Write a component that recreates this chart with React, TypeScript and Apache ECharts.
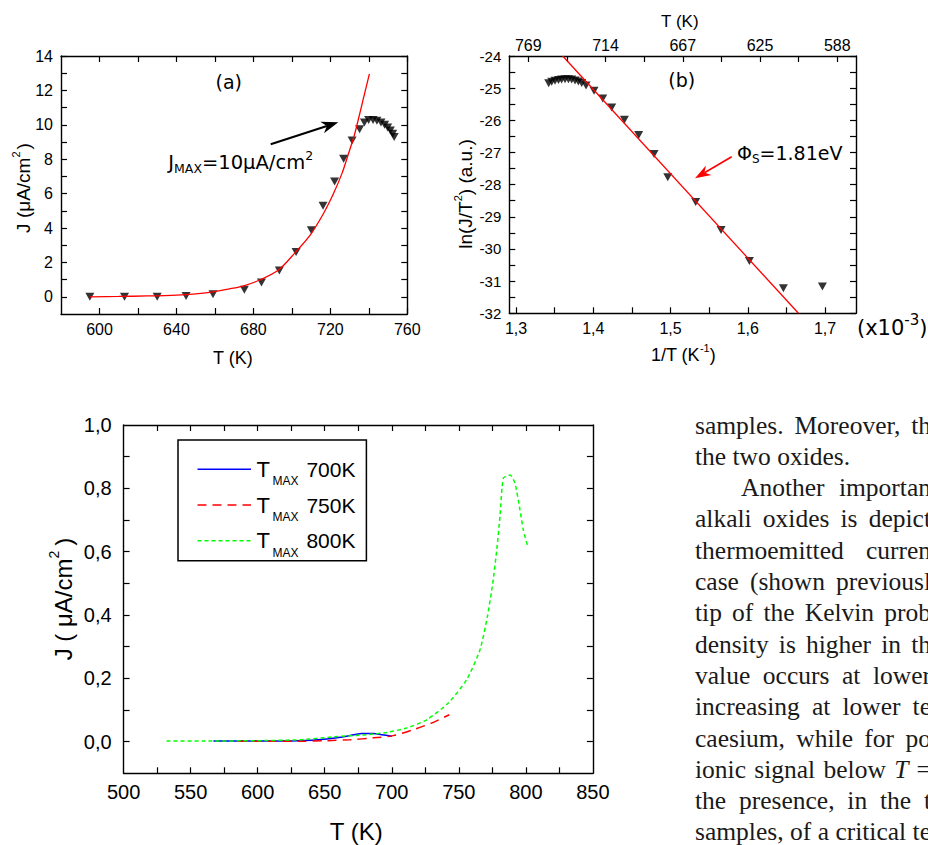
import React, { useEffect, useRef } from 'react';
import * as echarts from 'echarts';

const SANS = '"Liberation Sans", Arial, Helvetica, sans-serif';
const DEJAVU = '"DejaVu Sans", Verdana, sans-serif';
const SERIF = '"Liberation Serif", "Times New Roman", serif';

// ---------- Panel (a): J vs T ----------
const aTemp = [595, 613, 630, 645, 659, 675.3, 684.2, 693.5, 702.2, 710.1, 716.2, 722.2, 726.9, 731.3, 735.2, 737.7, 739.9, 742.2, 744.2, 746.3, 748.2, 749.8, 751.2, 752.4, 753.2];
const aCurrent = [0, 0, 0, 0.05, 0.15, 0.41, 0.83, 1.53, 2.6, 3.87, 5.29, 6.7, 8.02, 9.08, 9.74, 10.13, 10.28, 10.28, 10.23, 10.13, 10.0, 9.84, 9.67, 9.48, 9.29];
const aFitTemp = [595, 610, 625, 640, 650, 660, 668, 675, 683.6, 693.2, 701.8, 709.6, 716.5, 721.7, 726.1, 729.5, 732.5, 734.7, 737, 740.3];
const aFitCurrent = [0.0, 0.02, 0.05, 0.1, 0.17, 0.3, 0.47, 0.64, 0.99, 1.57, 2.58, 3.6, 4.86, 6.02, 7.19, 8.35, 9.41, 10.38, 11.45, 12.96];
const aXTicks = [600, 620, 640, 660, 680, 700, 720, 740, 760];
const aXLabels = [600, 640, 680, 720, 760];
const aYTicks = [0, 1, 2, 3, 4, 5, 6, 7, 8, 9, 10, 11, 12, 13, 14];
const aYLabels = [0, 2, 4, 6, 8, 10, 12, 14];

// ---------- Panel (b): ln(J/T^2) vs 1/T ----------
const bInvT = [1.3423, 1.3462, 1.3505, 1.355, 1.359, 1.3634, 1.3678, 1.372, 1.3764, 1.3807, 1.385, 1.3906, 1.401, 1.4122, 1.4239, 1.4403, 1.4588, 1.4787, 1.4964, 1.5326, 1.5654, 1.6021, 1.6461, 1.6966];
const bLnJT2 = [-24.85, -24.8, -24.77, -24.75, -24.73, -24.72, -24.72, -24.73, -24.76, -24.79, -24.84, -24.92, -25.08, -25.32, -25.6, -25.98, -26.46, -27.05, -27.77, -28.54, -29.41, -30.37, -31.22, -31.17];
const bFitInvT = [1.3604, 1.6656];
const bFitLn = [-24, -32];
const bXTicks = [1.3, 1.35, 1.4, 1.45, 1.5, 1.55, 1.6, 1.65, 1.7];
const bXLabels = [1.3, 1.4, 1.5, 1.6, 1.7];
const bYTicks = [-32, -31.5, -31, -30.5, -30, -29.5, -29, -28.5, -28, -27.5, -27, -26.5, -26, -25.5, -25, -24.5, -24];
const bYLabels = [-32, -31, -30, -29, -28, -27, -26, -25, -24];
const bTopLabelValues = [1.3, 1.4, 1.5, 1.6, 1.7];
const bTopLabels = ['769', '714', '667', '625', '588'];

// ---------- Panel (c): J vs T for three T_MAX ----------
const c700T = [567, 600, 630, 651.5, 666.4, 677.6, 686.3, 692.5, 700];
const c700J = [0.002, 0.002, 0.003, 0.0085, 0.017, 0.026, 0.026, 0.022, 0.017];
const c750T = [585, 610, 631.6, 651.5, 668.9, 686.2, 701.1, 716.1, 731, 742.9];
const c750J = [0.001, 0.001, 0.001, 0.003, 0.006, 0.012, 0.019, 0.038, 0.061, 0.085];
const c800T = [532, 560, 600, 631.6, 656.4, 681.3, 696.2, 711.1, 726.1, 742.2, 755.9, 765.8, 771.3, 775.3, 778.3, 780.7, 783.2, 788.2, 791.9, 795.6, 798.1, 801.1];
const c800J = [0.002, 0.002, 0.003, 0.006, 0.015, 0.022, 0.029, 0.043, 0.069, 0.122, 0.196, 0.29, 0.395, 0.5, 0.606, 0.711, 0.832, 0.842, 0.816, 0.732, 0.669, 0.621];
const cSeriesNames = ['700K', '750K', '800K'];
const cXTicks = [525, 550, 575, 600, 625, 650, 675, 700, 725, 750, 775, 800, 825];
const cXLabels = [500, 550, 600, 650, 700, 750, 800, 850];
const cYTicks = [0, 0.1, 0.2, 0.3, 0.4, 0.5, 0.6, 0.7, 0.8, 0.9];
const cYLabels = [0, 0.2, 0.4, 0.6, 0.8, 1.0];

// ---------- Body text ----------
const paraLines = [
  'samples. Moreover, th',
  'the two oxides.',
  'Another importan',
  'alkali oxides is depict',
  'thermoemitted curren',
  'case (shown previousl',
  'tip of the Kelvin prob',
  'density is higher in th',
  'value occurs at lower',
  'increasing at lower te',
  'caesium, while for po',
  'ionic signal below T =',
  'the presence, in the t',
  'samples, of a critical te',
];

const zip = (xs: number[], ys: number[]) => xs.map((x, i) => [x, ys[i]]);
const comma1 = (v: number) => v.toFixed(1).replace('.', ',');

function axis(o: any) {
  return {
    type: 'value',
    gridIndex: o.grid,
    position: o.pos,
    min: o.min,
    max: o.max,
    axisLine: { show: true, onZero: false, lineStyle: { color: '#000', width: 1.4 } },
    axisTick: { show: true, inside: true, length: 6, customValues: o.ticks, lineStyle: { color: '#000', width: 1.2 } },
    axisLabel: o.labels
      ? {
          show: true,
          customValues: o.labels,
          formatter: o.fmt,
          fontSize: o.fs,
          fontFamily: SANS,
          color: '#000',
          margin: o.margin,
          showMinLabel: true,
          showMaxLabel: true,
        }
      : { show: false },
    splitLine: { show: false },
    splitArea: { show: false },
  };
}

export default function App() {
  const ref = useRef<HTMLDivElement>(null);

  useEffect(() => {
    if (!ref.current) return;
    const chart = echarts.init(ref.current, undefined, { renderer: 'svg' });
    const cv = document.createElement('canvas').getContext('2d') as CanvasRenderingContext2D;
    const fontStr = (size: number, family: string, italic?: boolean) => `${italic ? 'italic ' : ''}${size}px ${family}`;
    const tw = (t: string, size: number, family: string, italic?: boolean) => {
      cv.font = fontStr(size, family, italic);
      return cv.measureText(t).width;
    };
    type Part = { t: string; size: number; family?: string; dy?: number; italic?: boolean; pre?: number; color?: string };
    const seq = (parts: Part[], x0: number, y0: number, align: 'left' | 'center' = 'left') => {
      const ws = parts.map((p) => tw(p.t, p.size, p.family || SANS, p.italic));
      const total = parts.reduce((s, p, i) => s + ws[i] + (p.pre || 0), 0);
      let x = align === 'center' ? x0 - total / 2 : x0;
      return parts.map((p, i) => {
        x += p.pre || 0;
        const el = {
          type: 'text',
          x,
          y: y0 + (p.dy || 0),
          silent: true,
          style: {
            text: p.t,
            fontSize: p.size,
            fontFamily: p.family || SANS,
            fontStyle: p.italic ? 'italic' : 'normal',
            fill: p.color || '#000',
            align: 'left',
            verticalAlign: 'middle',
          },
        };
        x += ws[i];
        return el;
      });
    };
    const rotated = (parts: Part[], cx: number, cy: number) => ({
      type: 'group',
      x: cx,
      y: cy,
      rotation: Math.PI / 2,
      children: seq(parts, 0, 0, 'center'),
    });
    const arrow = (sx: number, sy: number, tx: number, ty: number, L: number, W: number, notch: number, color: string, lw: number) => {
      const dx = tx - sx, dy = ty - sy;
      const len = Math.hypot(dx, dy);
      const ux = dx / len, uy = dy / len;
      const nx = -uy, ny = ux;
      const bx = tx - L * ux, by = ty - L * uy;
      const mx = tx - notch * ux, my = ty - notch * uy;
      return [
        { type: 'line', silent: true, shape: { x1: sx, y1: sy, x2: mx, y2: my }, style: { stroke: color, lineWidth: lw } },
        {
          type: 'polygon',
          silent: true,
          shape: { points: [[tx, ty], [bx + W * nx, by + W * ny], [mx, my], [bx - W * nx, by - W * ny]] },
          style: { fill: color },
        },
      ];
    };

    const graphics: any[] = [];
    // Panel (a) texts
    graphics.push(...seq([{ t: '(a)', size: 19, family: DEJAVU }], 228.7, 81.7, 'center'));
    graphics.push(
      ...seq(
        [
          { t: 'J', size: 19.5, family: DEJAVU },
          { t: 'MAX', size: 12.5, family: DEJAVU, dy: 6 },
          { t: '=10μA/cm', size: 19.5, family: DEJAVU },
          { t: '2', size: 12.5, family: DEJAVU, dy: -7 },
        ],
        168.3,
        162,
      ),
    );
    graphics.push(...arrow(270.7, 144.3, 338.3, 122.3, 17, 6, 12, '#000', 2));
    graphics.push(...seq([{ t: 'T (K)', size: 18 }], 233, 358, 'center'));
    graphics.push(rotated([{ t: 'J (μA/cm', size: 19 }, { t: '2', size: 11, dy: -7 }, { t: ')', size: 19, pre: 2 }], 23, 188));

    // Panel (b) texts
    graphics.push(...seq([{ t: '(b)', size: 19, family: DEJAVU }], 681.7, 80, 'center'));
    graphics.push(
      ...seq(
        [
          { t: 'Φ', size: 19, family: DEJAVU },
          { t: 'S', size: 12, family: DEJAVU, dy: 6 },
          { t: '=1.81eV', size: 19, family: DEJAVU },
        ],
        737,
        153,
      ),
    );
    graphics.push(...arrow(731.7, 156.7, 695, 178.3, 16, 5.5, 11, '#ff0000', 1.6));
    graphics.push(...seq([{ t: 'T (K)', size: 17 }], 680, 21.7, 'center'));
    graphics.push(...seq([{ t: '1/T (K', size: 18 }, { t: '-1', size: 11, dy: -7 }, { t: ')', size: 18 }], 683.3, 355, 'center'));
    graphics.push(rotated([{ t: 'ln(J/T', size: 19 }, { t: '2', size: 11, dy: -7 }, { t: ') (a.u.)', size: 19 }], 465, 194));
    graphics.push(
      ...seq(
        [
          { t: '(x10', size: 21, family: DEJAVU },
          { t: '-3', size: 15, family: DEJAVU, dy: -8 },
          { t: ')', size: 21, family: DEJAVU },
        ],
        857,
        328,
      ),
    );

    // Panel (c) texts
    graphics.push(...seq([{ t: 'T (K)', size: 24 }], 356.4, 831.7, 'center'));
    graphics.push(rotated([{ t: 'J ( μA/cm', size: 24 }, { t: '2', size: 14, dy: -9 }, { t: ')', size: 24, pre: 5 }], 63.3, 599));

    // Panel (c) legend
    graphics.push({
      type: 'rect',
      silent: true,
      z: 100,
      shape: { x: 178, y: 440, width: 188.4, height: 120.7 },
      style: { fill: '#fff', stroke: '#000', lineWidth: 1.5 },
    });
    const legendStyles = [
      { color: '#0000ff', dash: null },
      { color: '#ff0000', dash: [9, 6] },
      { color: '#00ff00', dash: [4, 3] },
    ];
    const rowsY = [469.3, 505, 540.7];
    cSeriesNames.forEach((name, i) => {
      const y = rowsY[i];
      graphics.push({
        type: 'line',
        silent: true,
        z: 101,
        shape: { x1: 197.5, y1: y, x2: 251, y2: y },
        style: { stroke: legendStyles[i].color, lineWidth: 1.6, lineDash: legendStyles[i].dash || undefined },
      });
      const tx = [
        { type: 'text', x: 256.4, y, z: 101, silent: true, style: { text: 'T', fontSize: 22, fontFamily: SANS, fill: '#000', align: 'left', verticalAlign: 'middle' } },
        { type: 'text', x: 272.5, y: y + 12, z: 101, silent: true, style: { text: 'MAX', fontSize: 12, fontFamily: SANS, fill: '#000', align: 'left', verticalAlign: 'middle' } },
        { type: 'text', x: 306.4, y, z: 101, silent: true, style: { text: name, fontSize: 21, fontFamily: SANS, fill: '#000', align: 'left', verticalAlign: 'middle' } },
      ];
      graphics.push(...tx);
    });

    // Body text column (page text beside the figure, cut by the picture edge)
    const PSIZE = 25.5;
    paraLines.forEach((line, i) => {
      const y = 425 + i * 31.3;
      const left = i === 2 ? 741 : 695;
      const words = line.split(' ');
      const italicWord = (w: string, idx: number) => i === 11 && w === 'T' && idx === 3;
      const ws = words.map((w, k) => tw(w, PSIZE, SERIF, italicWord(w, k)));
      const W = ws.reduce((a, b) => a + b, 0);
      const space = tw(' ', PSIZE, SERIF);
      let gap = space;
      if (i !== 1 && words.length > 1) gap = Math.max(space, (931 - left - W) / (words.length - 1));
      let x = left;
      words.forEach((w, k) => {
        graphics.push({
          type: 'text',
          x,
          y,
          silent: true,
          style: {
            text: w,
            fontSize: PSIZE,
            fontFamily: SERIF,
            fontStyle: italicWord(w, k) ? 'italic' : 'normal',
            fill: '#1a1a1a',
            align: 'left',
            verticalAlign: 'middle',
          },
        });
        x += ws[k] + gap;
      });
    });

    const option: any = {
      animation: false,
      backgroundColor: '#fff',
      grid: [
        { left: 61, top: 56, width: 346.3, height: 258 },
        { left: 509.3, top: 56, width: 346.7, height: 257.3 },
        { left: 123.6, top: 425, width: 469.3, height: 348.3 },
      ],
      xAxis: [
        axis({ grid: 0, pos: 'bottom', min: 580, max: 760, ticks: aXTicks, labels: aXLabels, fmt: (v: number) => String(v), fs: 16, margin: 7 }),
        axis({ grid: 0, pos: 'top', min: 580, max: 760, ticks: aXTicks }),
        axis({ grid: 1, pos: 'bottom', min: 1.2913, max: 1.7401, ticks: bXTicks, labels: bXLabels, fmt: comma1, fs: 16, margin: 7 }),
        axis({
          grid: 1,
          pos: 'top',
          min: 1.2754,
          max: 1.7242,
          ticks: bXTicks,
          labels: bTopLabelValues,
          fmt: (v: number) => {
            const k = bTopLabelValues.findIndex((x) => Math.abs(x - v) < 1e-6);
            return k >= 0 ? bTopLabels[k] : '';
          },
          fs: 16,
          margin: 3,
        }),
        axis({ grid: 2, pos: 'bottom', min: 500, max: 850, ticks: cXTicks, labels: cXLabels, fmt: (v: number) => String(v), fs: 20, margin: 9 }),
        axis({ grid: 2, pos: 'top', min: 500, max: 850, ticks: cXTicks }),
      ],
      yAxis: [
        axis({ grid: 0, pos: 'left', min: -1, max: 14, ticks: aYTicks, labels: aYLabels, fmt: (v: number) => String(v), fs: 16, margin: 8 }),
        axis({ grid: 0, pos: 'right', min: -1, max: 14, ticks: aYTicks }),
        axis({ grid: 1, pos: 'left', min: -32, max: -24, ticks: bYTicks, labels: bYLabels, fmt: (v: number) => String(v), fs: 15, margin: 8 }),
        axis({ grid: 1, pos: 'right', min: -32, max: -24, ticks: bYTicks }),
        axis({ grid: 2, pos: 'left', min: -0.1, max: 1.0, ticks: cYTicks, labels: cYLabels, fmt: comma1, fs: 20, margin: 12 }),
        axis({ grid: 2, pos: 'right', min: -0.1, max: 1.0, ticks: cYTicks }),
      ],
      series: [
        {
          type: 'scatter',
          name: 'J data',
          xAxisIndex: 0,
          yAxisIndex: 0,
          data: zip(aTemp, aCurrent),
          symbol: 'triangle',
          symbolRotate: 180,
          symbolSize: [9, 8],
          itemStyle: { color: '#000' },
          silent: true,
        },
        {
          type: 'line',
          name: 'fit',
          xAxisIndex: 0,
          yAxisIndex: 0,
          data: zip(aFitTemp, aFitCurrent),
          smooth: 0.3,
          symbol: 'none',
          lineStyle: { color: '#ff0000', width: 1.3 },
          silent: true,
        },
        {
          type: 'scatter',
          name: 'ln data',
          xAxisIndex: 2,
          yAxisIndex: 2,
          data: zip(bInvT, bLnJT2),
          symbol: 'triangle',
          symbolRotate: 180,
          symbolSize: [9, 8],
          itemStyle: { color: '#000' },
          silent: true,
        },
        {
          type: 'line',
          name: 'Richardson fit',
          xAxisIndex: 2,
          yAxisIndex: 2,
          data: zip(bFitInvT, bFitLn),
          symbol: 'none',
          lineStyle: { color: '#ff0000', width: 1.3 },
          silent: true,
        },
        {
          type: 'line',
          name: 'T_MAX 700K',
          xAxisIndex: 4,
          yAxisIndex: 4,
          data: zip(c700T, c700J),
          smooth: 0.3,
          symbol: 'none',
          lineStyle: { color: '#0000ff', width: 1.5 },
          silent: true,
        },
        {
          type: 'line',
          name: 'T_MAX 750K',
          xAxisIndex: 4,
          yAxisIndex: 4,
          data: zip(c750T, c750J),
          smooth: 0.3,
          symbol: 'none',
          lineStyle: { color: '#ff0000', width: 1.5, type: [9, 6] },
          silent: true,
        },
        {
          type: 'line',
          name: 'T_MAX 800K',
          xAxisIndex: 4,
          yAxisIndex: 4,
          data: zip(c800T, c800J),
          smooth: 0.2,
          symbol: 'none',
          lineStyle: { color: '#00ff00', width: 1.5, type: [4, 3] },
          silent: true,
        },
      ],
      graphic: graphics,
    };
    chart.setOption(option);
    return () => chart.dispose();
  }, []);

  return (
    <div
      ref={ref}
      style={{ position: 'absolute', left: 0, top: 0, width: 928, height: 845, background: '#fff' }}
    />
  );
}
